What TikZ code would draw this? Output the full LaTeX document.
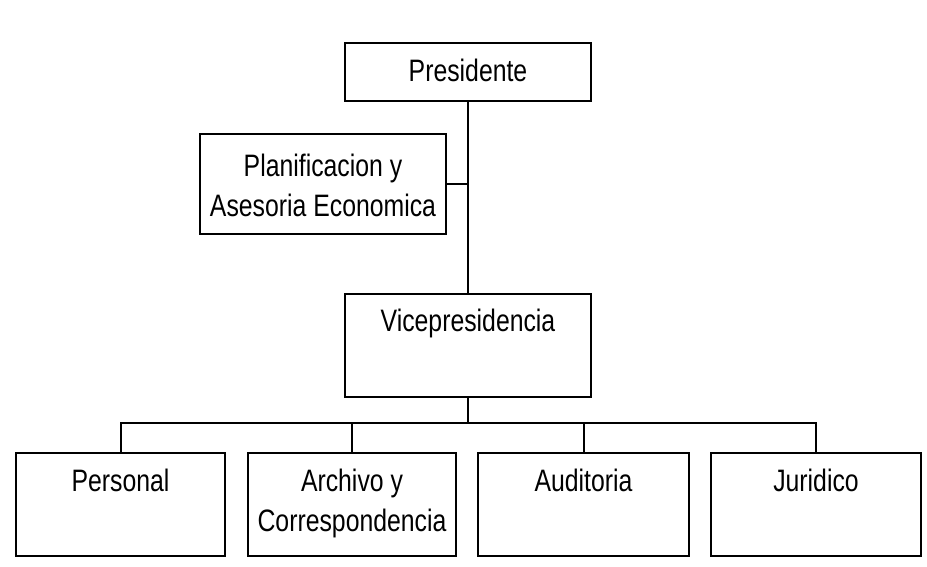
\documentclass[tikz,border=0pt]{standalone}
\usepackage{fontspec}
\setmainfont{Liberation Sans}[FakeStretch=0.8]

\begin{document}
\begin{tikzpicture}[x=1pt,y=-1pt,line width=2pt,
    font=\fontsize{31}{40}\selectfont,
    box/.style={draw, inner sep=0pt, minimum width=#1, minimum height=103pt},
    txt/.style={anchor=north, inner sep=0pt, align=center}]
  \useasboundingbox (0,0) rectangle (927,567);

  \node[box=246pt, minimum height=58pt, label={[txt, yshift=-16pt]north:Presidente}] (pres) at (468,72) {};
  \node[box=246pt, minimum height=100pt, label={[txt, yshift=-20pt]north:Planificacion y\\Asesoria Economica}] (plan) at (323,184) {};
  \node[box=246pt, label={[txt, yshift=-15pt]north:Vicepresidencia}] (vice) at (468,345.5) {};

  \node[box=209pt, label={[txt, yshift=-16pt]north:Personal}] (pers) at (120.5,504.5) {};
  \node[box=208pt, label={[txt, yshift=-16pt]north:Archivo y\\Correspondencia}] (arch) at (352,504.5) {};
  \node[box=211pt, label={[txt, yshift=-16pt]north:Auditoria}] (audi) at (583.5,504.5) {};
  \node[box=210pt, label={[txt, yshift=-16pt]north:Juridico}] (juri) at (816,504.5) {};

  \coordinate (bus) at (468,423);

  \draw (pres) -- (vice);
  \draw (plan.east) -- (plan.east -| pres.south);
  \draw (vice) -- (bus);
  \foreach \n in {pers,arch,audi,juri}
    \draw (\n.north) |- (bus);
\end{tikzpicture}
\end{document}
